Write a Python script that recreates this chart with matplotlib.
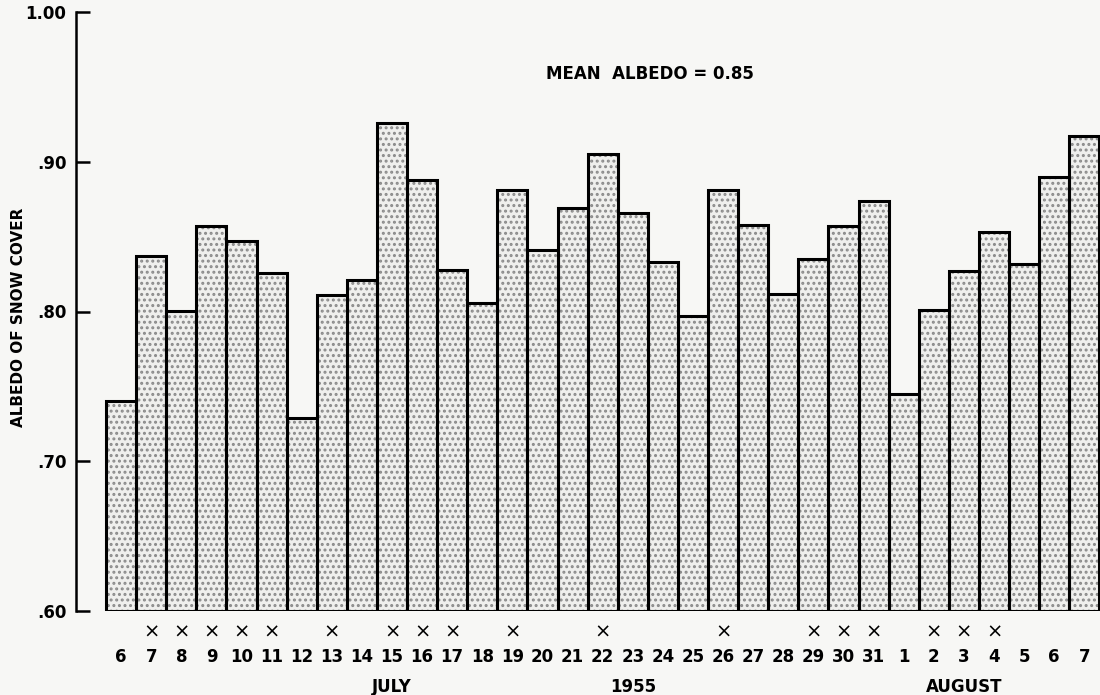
import numpy as np
import matplotlib
matplotlib.use('Agg')
import matplotlib.pyplot as plt

# daily albedo, 6 July - 7 August 1955
july_days = list(range(6, 32))
aug_days = list(range(1, 8))
albedo = [0.740, 0.837, 0.800, 0.857, 0.847, 0.826, 0.729, 0.811, 0.821, 0.926,
          0.888, 0.828, 0.806, 0.881, 0.841, 0.869, 0.905, 0.866, 0.833, 0.797,
          0.881, 0.858, 0.812, 0.835, 0.857, 0.874,
          0.745, 0.801, 0.827, 0.853, 0.832, 0.890, 0.917]
marked_july = [7, 8, 9, 10, 11, 13, 15, 16, 17, 19, 22, 26, 29, 30, 31]
marked_aug = [2, 3, 4]
yticks = [0.60, 0.70, 0.80, 0.90, 1.00]
ytick_labels = ['.60', '.70', '.80', '.90', '1.00']

plt.rcParams['font.family'] = 'DejaVu Sans'
plt.rcParams['font.weight'] = 'bold'
plt.rcParams['hatch.linewidth'] = 1.4

bg = '#f7f7f5'
fig = plt.figure(figsize=(11, 6.95), dpi=100, facecolor=bg)
ax = fig.add_axes([76 / 1100, 84 / 695, 1024 / 1100, 599 / 695])
ax.set_facecolor(bg)

labels = [str(d) for d in july_days] + [str(d) for d in aug_days]
marks = [d in marked_july for d in july_days] + [d in marked_aug for d in aug_days]
x = np.arange(len(albedo))
vals = np.array(albedo)

# dotted fill, then the black outlines
ax.bar(x, vals - 0.6, bottom=0.6, width=1.0, color='#efefed',
       hatch='...', edgecolor='#8a8a8a', linewidth=0)
ax.bar(x, vals - 0.6, bottom=0.6, width=1.0, fill=False,
       edgecolor='black', linewidth=2.2)

ax.set_xlim(-1.5, 32.52)
ax.set_ylim(0.60, 1.00)

for s in ['top', 'right', 'bottom']:
    ax.spines[s].set_visible(False)
ax.spines['left'].set_linewidth(1.8)
ax.set_yticks(yticks)
ax.set_yticklabels(ytick_labels, fontsize=12, fontweight='bold')
ax.tick_params(axis='y', direction='in', length=10, width=1.8, pad=7)
ax.set_xticks([])

tr = ax.get_xaxis_transform()
for xi, lab, m in zip(x, labels, marks):
    ax.text(xi, -0.077, lab, transform=tr, ha='center', va='center',
            fontsize=12, fontweight='bold')
    if m:
        ax.text(xi, -0.035, '×', transform=tr, ha='center', va='center',
                fontsize=14, fontweight='normal')

ax.text(9, -0.127, 'JULY', transform=tr, ha='center', va='center',
        fontsize=12, fontweight='bold')
ax.text(17, -0.127, '1955', transform=tr, ha='center', va='center',
        fontsize=12, fontweight='bold')
ax.text(28, -0.127, 'AUGUST', transform=tr, ha='center', va='center',
        fontsize=12, fontweight='bold')

ax.text(17.57, 0.9587, 'MEAN  ALBEDO = 0.85', ha='center', va='center',
        fontsize=12, fontweight='bold')

fig.text(19 / 1100, 1 - 317 / 695, 'ALBEDO OF SNOW COVER', rotation=90,
         ha='center', va='center', fontsize=11, fontweight='bold')

fig.savefig('out.png', dpi=100, facecolor=bg)
